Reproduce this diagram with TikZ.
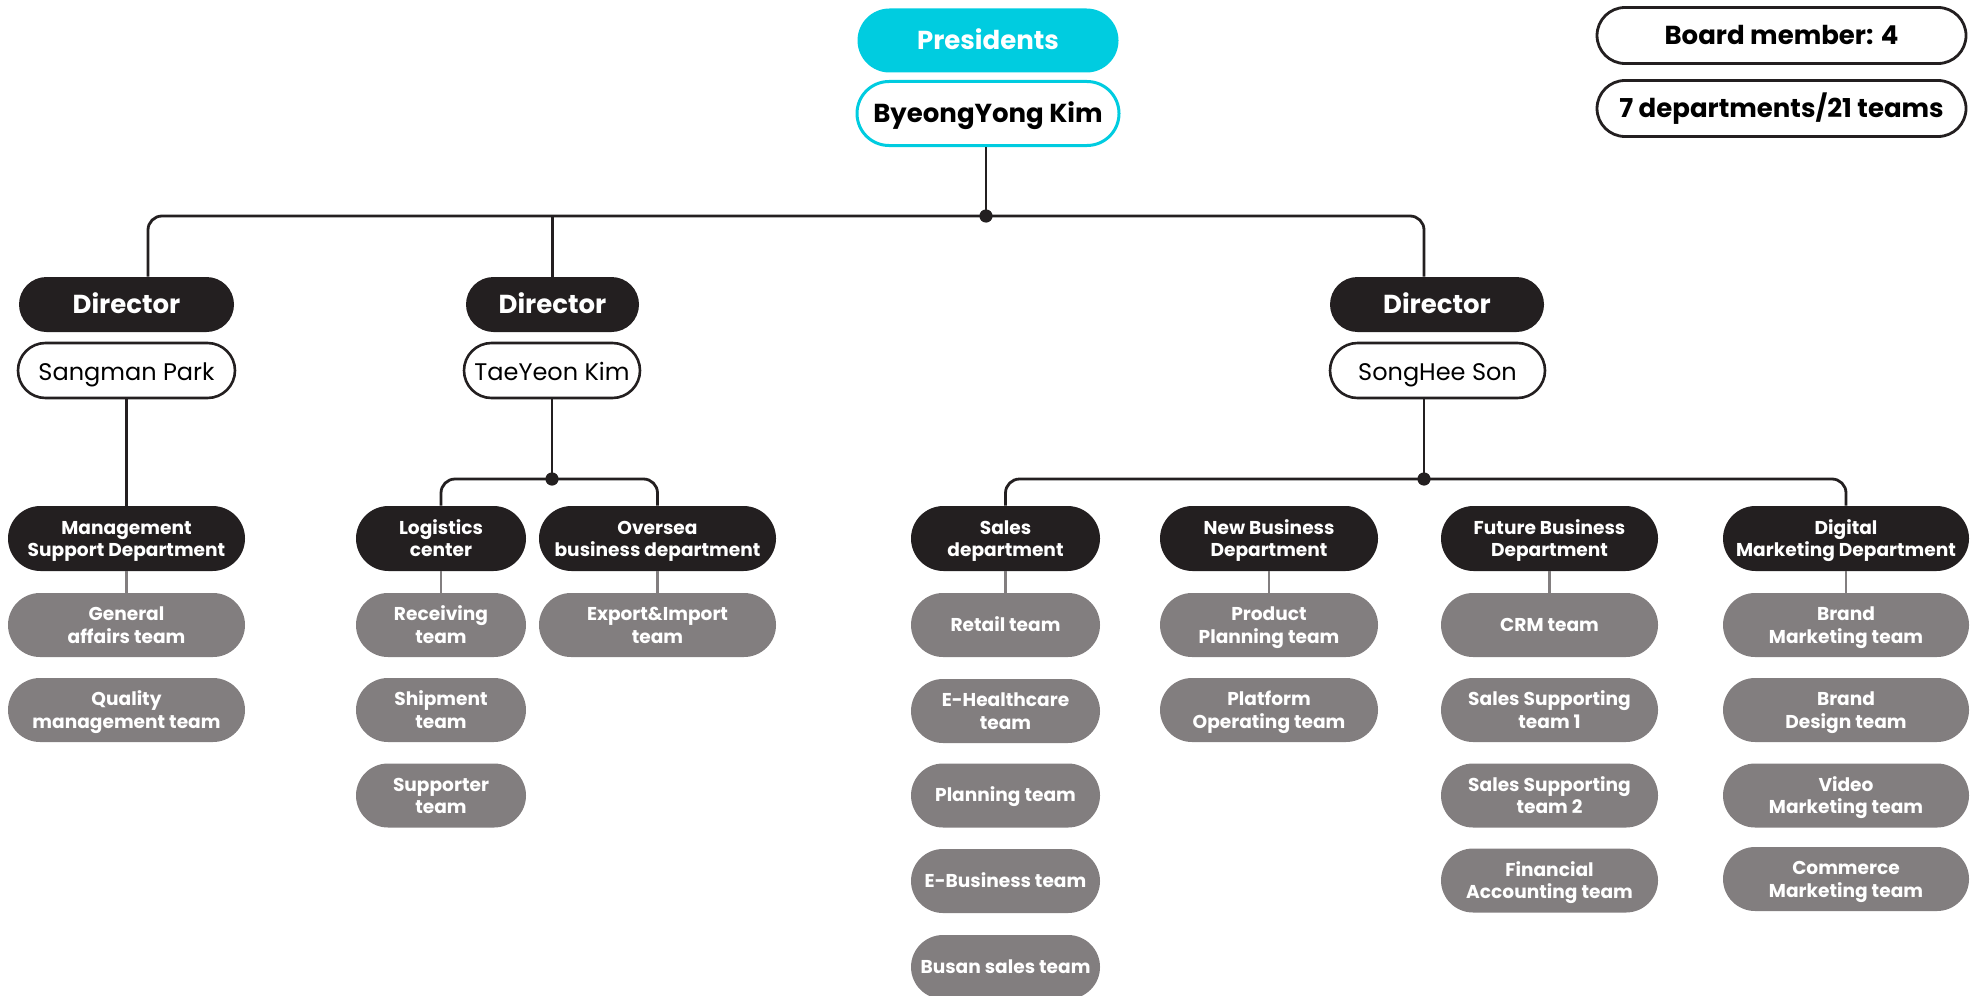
\documentclass[tikz,border=0pt]{standalone}
\usepackage{fontspec}
\setmainfont{Poppins}
\usetikzlibrary{calc}
\definecolor{pcyan}{HTML}{00CCE0}
\definecolor{pblack}{HTML}{231F20}
\definecolor{pgray}{HTML}{827E7F}
\newcommand\tstr{\rule[-2.4pt]{0pt}{11.3pt}}
\newcommand\ml[2]{\rule{0pt}{9.5pt}#1\\#2\rule[-2.6pt]{0pt}{2.6pt}}
\begin{document}
\begin{tikzpicture}[x=0.5pt,y=-0.5pt,
  wd/.style={minimum width=#1*0.5pt},
  pill/.style={rectangle, inner sep=0pt, align=center},
  big/.style={font=\fontsize{13}{15}\selectfont\bfseries, text height=9.3pt, text depth=0pt},
  pres/.style={pill, big, fill=pcyan, text=white, minimum height=32pt, rounded corners=16pt},
  presname/.style={pill, big, fill=white, draw=pcyan, line width=1.5pt, text=black, minimum height=32pt, rounded corners=16pt},
  board/.style={pill, big, fill=white, draw=pblack, line width=1.4pt, text=black, minimum height=28pt, rounded corners=14pt},
  dir/.style={pill, big, fill=pblack, text=white, minimum height=27.5pt, rounded corners=13.75pt},
  pname/.style={pill, fill=white, draw=pblack, line width=1.3pt, text=black, font=\fontsize{12}{14}\selectfont, text height=9.8pt, text depth=0pt, minimum height=27.5pt, rounded corners=13.75pt},
  small/.style={font=\fontsize{9.3}{11.3}\selectfont\bfseries},
  smallone/.style={font=\fontsize{9.3}{11.3}\selectfont\bfseries, execute at begin node=\tstr},
  dept/.style={pill, small, fill=pblack, text=white, minimum height=32.5pt, rounded corners=16.25pt},
  team/.style={pill, small, fill=pgray, text=white, minimum height=32pt, rounded corners=16pt},
  teamone/.style={pill, smallone, fill=pgray, text=white, minimum height=32pt, rounded corners=16pt},
  conn/.style={draw=pblack, line width=1.4pt},
  gconn/.style={draw=pgray, line width=1.4pt},
  jdot/.style={fill=pblack}
]
\useasboundingbox (0,0) rectangle (1973,995);

% top
\node[pres, wd=261] (pres) at (988,40.5) {Presidents};
\node[presname, wd=262] (byk) at (988,113.5) {ByeongYong Kim};
\node[board, wd=369] (bm) at (1781.5,35.5) {Board member: 4};
\node[board, wd=369] (dt) at (1781.5,108.5) {7 departments/21 teams};

% directors
\node[dir, wd=215] (d1) at (126.5,304.5) {Director};
\node[dir, wd=173] (d2) at (552.5,304.5) {Director};
\node[dir, wd=214] (d3) at (1437,304.5) {Director};
\node[pname, wd=217] (n1) at (126.5,370.5) {Sangman Park};
\node[pname, wd=176] (n2) at (552,370.5) {TaeYeon Kim};
\node[pname, wd=215] (n3) at (1437.5,370.5) {SongHee Son};

% departments
\node[dept, wd=237] (m1) at (126.5,538.5) {\ml{Management}{Support Department}};
\node[dept, wd=170] (l1) at (441,538.5) {\ml{Logistics}{center}};
\node[dept, wd=237] (o1) at (657.5,538.5) {\ml{Oversea}{business department}};
\node[dept, wd=189] (s1) at (1005.5,538.5) {\ml{Sales}{department}};
\node[dept, wd=218] (nb) at (1269,538.5) {\ml{New Business}{Department}};
\node[dept, wd=217] (fb) at (1549.5,538.5) {\ml{Future Business}{Department}};
\node[dept, wd=246] (dm) at (1846,538.5) {\ml{Digital}{Marketing Department}};

% teams
\node[team, wd=237] (m1a) at (126.5,625) {\ml{General}{affairs team}};
\node[team, wd=237] (m1b) at (126.5,710) {\ml{Quality}{management team}};
\node[team, wd=170] (l1a) at (441,625) {\ml{Receiving}{team}};
\node[team, wd=170] (l1b) at (441,710) {\ml{Shipment}{team}};
\node[team, wd=170] (l1c) at (441,795.5) {\ml{Supporter}{team}};
\node[team, wd=237] (o1a) at (657.5,625) {\ml{Export\&Import}{team}};
\node[teamone, wd=189] (s1a) at (1005.5,625) {Retail team};
\node[team, wd=189] (s1b) at (1005.5,711) {\ml{E-Healthcare}{team}};
\node[teamone, wd=189] (s1c) at (1005.5,795.5) {Planning team};
\node[teamone, wd=189] (s1d) at (1005.5,881) {E-Business team};
\node[teamone, wd=189] (s1e) at (1005.5,967) {Busan sales team};
\node[team, wd=218] (nba) at (1269,625) {\ml{Product}{Planning team}};
\node[team, wd=218] (nbb) at (1269,710) {\ml{Platform}{Operating team}};
\node[teamone, wd=217] (fba) at (1549.5,625) {CRM team};
\node[team, wd=217] (fbb) at (1549.5,710) {\ml{Sales Supporting}{team 1}};
\node[team, wd=217] (fbc) at (1549.5,795.5) {\ml{Sales Supporting}{team 2}};
\node[team, wd=217] (fbd) at (1549.5,880.5) {\ml{Financial}{Accounting team}};
\node[team, wd=246] (dma) at (1846,625) {\ml{Brand}{Marketing team}};
\node[team, wd=246] (dmb) at (1846,710) {\ml{Brand}{Design team}};
\node[team, wd=246] (dmc) at (1846,795.5) {\ml{Video}{Marketing team}};
\node[team, wd=246] (dmd) at (1846,879) {\ml{Commerce}{Marketing team}};

% connectors level 1
\coordinate (dot1) at (986,216);
\coordinate (t1) at ($(d1.north)+(21.5,0)$);
\coordinate (t3) at ($(d3.north)+(-13,0)$);
\draw[conn] (byk.south -| dot1) -- (dot1);
\draw[conn, rounded corners=7pt] (t1) |- (dot1) -| (t3);
\draw[conn] (d2.north) -- (d2.north |- dot1);
\fill[jdot] (dot1) circle (3.3pt);

% connectors level 2
\draw[conn] (n1.south) -- (m1.north);
\coordinate (dot2) at (552,479);
\draw[conn] (n2.south) -- (dot2);
\draw[conn, rounded corners=7pt] (l1.north) |- (dot2) -| (o1.north);
\fill[jdot] (dot2) circle (3.3pt);
\coordinate (dot3) at (1424,479);
\draw[conn] (dot3 |- n3.south) -- (dot3);
\draw[conn, rounded corners=7pt] (s1.north) |- (dot3) -| (dm.north);
\fill[jdot] (dot3) circle (3.3pt);

% dept to team
\draw[gconn] (m1.south) -- (m1a.north);
\draw[gconn] (l1.south) -- (l1a.north);
\draw[gconn] (o1.south) -- (o1a.north);
\draw[gconn] (s1.south) -- (s1a.north);
\draw[gconn] (nb.south) -- (nba.north);
\draw[gconn] (fb.south) -- (fba.north);
\draw[gconn] (dm.south) -- (dma.north);
\end{tikzpicture}
\end{document}
